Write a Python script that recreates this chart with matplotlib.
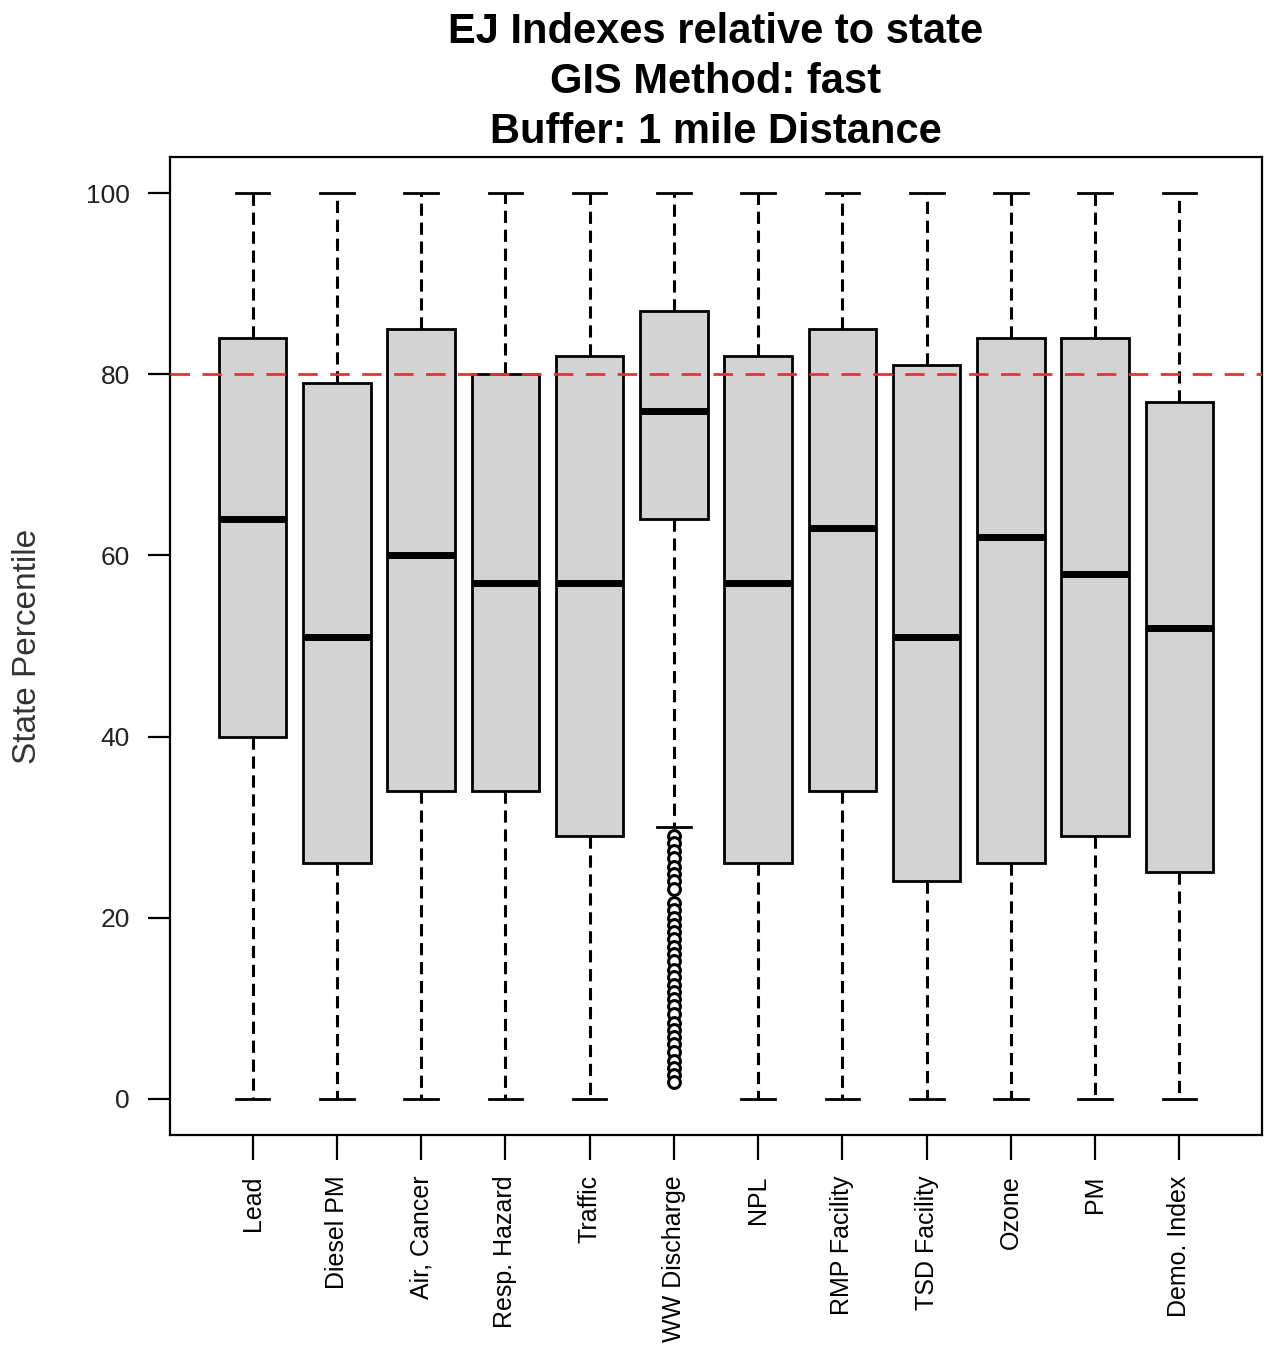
import matplotlib
matplotlib.use("Agg")
import matplotlib.pyplot as plt

plt.rcParams['font.family'] = ['Liberation Sans', 'DejaVu Sans']

# percentile summaries for each EJ index
indexes = ["Lead", "Diesel PM", "Air, Cancer", "Resp. Hazard", "Traffic", "WW Discharge",
           "NPL", "RMP Facility", "TSD Facility", "Ozone", "PM", "Demo. Index"]
q1 = [40, 26, 34, 34, 29, 64, 26, 34, 24, 26, 29, 25]
medians = [64, 51, 60, 57, 57, 76, 57, 63, 51, 62, 58, 52]
q3 = [84, 79, 85, 80, 82, 87, 82, 85, 81, 84, 84, 77]
whisker_low = [0, 0, 0, 0, 0, 30, 0, 0, 0, 0, 0, 0]
whisker_high = [100, 100, 100, 100, 100, 100, 100, 100, 100, 100, 100, 100]

# WW Discharge is the only index with low outliers
ww_outliers = [29, 28.2, 27.4, 26.6, 25.6, 24.8, 24, 23.2, 21.6, 20.8, 20, 19.2,
               18.4, 17.6, 16.8, 16, 15.2, 14.2, 13.4, 12.6, 11.8, 11, 10.2, 9.4,
               8.4, 7.6, 6.8, 6, 5.2, 4.2, 3.4, 2.6, 1.8]

threshold = 80


def build_stats():
    stats = []
    for i, name in enumerate(indexes):
        fliers = ww_outliers if name == "WW Discharge" else []
        stats.append({"label": name, "med": medians[i], "q1": q1[i], "q3": q3[i],
                      "whislo": whisker_low[i], "whishi": whisker_high[i],
                      "fliers": fliers})
    return stats


def main():
    fig = plt.figure(figsize=(12.71, 13.47), dpi=100)
    ax = fig.add_axes([0.1338, 0.1574, 0.8591, 0.7260])

    ax.bxp(build_stats(), positions=range(1, len(indexes) + 1), widths=0.8,
           patch_artist=True, showfliers=True,
           boxprops=dict(facecolor="#d3d3d3", edgecolor="black", linewidth=2),
           medianprops=dict(color="black", linewidth=5, solid_capstyle="butt"),
           whiskerprops=dict(color="black", linewidth=2.2, linestyle=(0, (4, 2.2))),
           capprops=dict(color="black", linewidth=2),
           capwidths=0.4,
           flierprops=dict(marker="o", markersize=8.5, markerfacecolor="white",
                           markeredgecolor="black", markeredgewidth=2.2, linestyle="none"))

    # 80th percentile reference line, drawn over the boxes
    ax.axhline(threshold, color="#e03535", linewidth=2, dashes=(7, 4.5), zorder=5)

    ax.set_xlim(0.02, 12.98)
    ax.set_ylim(-4, 104)
    ax.set_yticks([0, 20, 40, 60, 80, 100])
    ax.set_xticks(range(1, len(indexes) + 1))
    ax.set_xticklabels(indexes, rotation=90, fontsize=18)
    ax.tick_params(axis="y", labelsize=19, length=16, width=1.6, pad=13, labelcolor="#222222")
    ax.tick_params(axis="x", length=18, width=1.6, pad=11)
    for spine in ax.spines.values():
        spine.set_linewidth(1.6)

    ax.set_ylabel("State Percentile", fontsize=24, color="#333333")
    ax.yaxis.set_label_coords(-0.116, 0.5)

    ax.set_title("EJ Indexes relative to state\nGIS Method: fast\nBuffer: 1 mile Distance",
                 fontsize=30, fontweight="bold", linespacing=1.33, pad=10)

    fig.savefig("out.png", dpi=100)


if __name__ == "__main__":
    main()
